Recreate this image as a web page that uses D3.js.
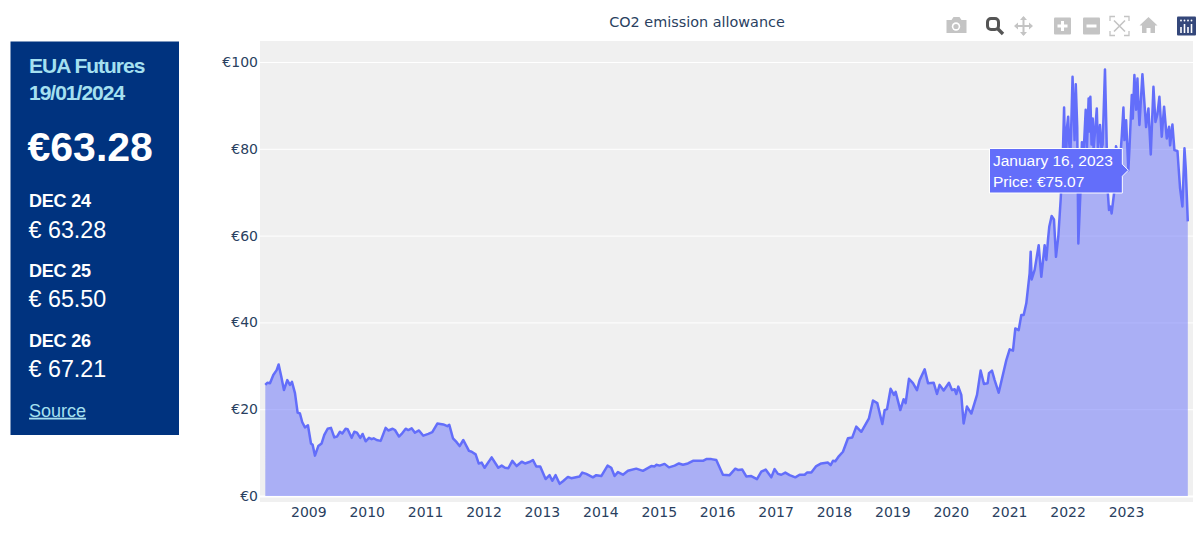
<!DOCTYPE html>
<html><head><meta charset="utf-8">
<script src="https://cdn.jsdelivr.net/npm/d3@7/dist/d3.min.js"></script>
<style>html,body{margin:0;padding:0;background:#fff;overflow:hidden}svg{display:block}</style>
</head><body><svg id="c" width="1200" height="536"></svg>
<script>
// decimal years
const years = [2008.264,2008.298,2008.344,2008.401,2008.458,2008.492,2008.538,2008.583,2008.640,2008.686,2008.720,2008.772,2008.817,2008.857,2008.897,2008.943,2008.994,2009.046,2009.074,2009.114,2009.171,2009.228,2009.274,2009.331,2009.388,2009.445,2009.491,2009.542,2009.582,2009.639,2009.674,2009.742,2009.788,2009.833,2009.890,2009.930,2009.982,2010.039,2010.084,2010.119,2010.170,2010.239,2010.324,2010.370,2010.444,2010.484,2010.553,2010.598,2010.667,2010.712,2010.769,2010.826,2010.895,2010.969,2011.055,2011.123,2011.209,2011.312,2011.380,2011.414,2011.477,2011.540,2011.591,2011.654,2011.751,2011.797,2011.865,2011.917,2011.968,2012.019,2012.139,2012.253,2012.311,2012.368,2012.425,2012.493,2012.567,2012.653,2012.710,2012.796,
2012.846,2012.903,2012.971,2013.063,2013.131,2013.177,2013.234,2013.303,2013.360,2013.445,2013.502,2013.645,2013.691,2013.759,2013.873,2013.930,2014.016,2014.124,2014.187,2014.244,2014.301,2014.387,2014.473,2014.615,2014.729,2014.872,2014.929,2014.958,2015.015,2015.100,2015.175,2015.272,2015.346,2015.414,2015.500,2015.586,2015.757,2015.814,2015.900,2015.985,2016.099,2016.213,2016.311,2016.356,2016.430,2016.499,2016.584,2016.682,2016.756,2016.830,2016.927,2016.984,2017.041,2017.098,2017.167,2017.241,2017.338,2017.412,2017.498,2017.538,2017.612,2017.697,2017.783,2017.897,2017.943,2017.983,2018.023,2018.086,
2018.154,2018.240,2018.314,2018.382,2018.468,2018.599,2018.668,2018.742,2018.828,2018.868,2018.908,2018.970,2019.027,2019.056,2019.136,2019.193,2019.227,2019.284,2019.353,2019.421,2019.467,2019.553,2019.610,2019.707,2019.764,2019.809,2019.878,2019.969,2020.021,2020.066,2020.095,2020.129,2020.180,2020.220,2020.277,2020.352,2020.449,2020.511,2020.568,2020.631,2020.654,2020.705,2020.751,2020.820,2020.951,2021.008,2021.065,2021.105,2021.162,2021.208,2021.248,2021.293,2021.350,2021.368,2021.385,2021.436,2021.505,2021.550,2021.607,2021.636,2021.664,
2021.687,2021.727,2021.767,2021.801,2021.841,2021.881,2021.916,2021.940,2021.955,2021.975,2021.990,2022.010,2022.025,2022.045,2022.060,2022.085,2022.100,2022.120,2022.140,2022.165,2022.184,2022.220,2022.245,2022.260,2022.285,2022.310,2022.330,2022.360,2022.375,2022.390,2022.410,2022.430,2022.445,2022.470,2022.500,2022.520,2022.555,2022.580,2022.600,2022.640,2022.663,2022.686,2022.709,2022.737,2022.754,2022.795,2022.829,2022.857,2022.899,2022.928,2022.956,2022.973,2023.002,2023.040,2023.059,2023.099,2023.116,2023.144,2023.173,2023.196,2023.213,2023.230,2023.281,2023.310,2023.344,2023.384,2023.424,2023.470,2023.504,2023.538,2023.572,2023.612,2023.652,2023.698,2023.738,2023.755,2023.795,2023.829,2023.881,2023.904,2023.926,2023.966,2024.001,2024.023,2024.058];
const prices = [25.6,26.1,26.0,27.9,29.0,30.3,27.5,24.4,26.7,25.6,26.3,23.7,19.2,19.0,17.0,15.8,16.3,12.1,11.8,9.3,11.5,12.1,14.1,15.5,15.7,13.5,13.7,14.8,14.4,15.5,15.4,13.4,14.8,14.6,13.4,14.3,12.6,13.4,13.1,13.3,12.9,12.7,15.7,15.1,15.5,15.2,13.7,14.3,15.5,15.2,15.6,14.6,15.1,13.9,14.3,14.7,16.7,16.5,16.1,16.4,13.3,12.4,11.5,12.9,10.4,10.2,9.6,7.5,7.7,6.5,8.9,6.5,7.0,6.5,6.4,8.1,6.9,7.9,7.5,7.9,
8.3,6.8,6.8,3.9,4.8,3.5,4.8,2.8,3.4,4.4,4.1,4.5,5.4,5.1,4.3,4.8,4.6,7.0,6.5,4.6,5.5,4.9,5.8,6.3,5.8,6.9,6.8,7.2,7.0,7.4,6.6,7.0,7.5,7.2,7.5,8.1,8.1,8.5,8.5,8.3,4.9,4.8,6.3,6.0,6.1,4.5,4.6,3.9,5.6,6.1,4.3,6.2,5.1,4.9,5.4,4.8,4.3,4.9,4.9,5.4,5.4,6.9,7.5,7.7,7.1,8.1,8.0,9.2,
10.2,13.3,13.5,16.0,14.8,17.9,22.0,21.4,16.6,19.8,20.0,24.7,23.3,24.0,19.8,22.3,21.4,27.0,26.0,24.4,26.7,29.2,26.0,26.1,23.5,25.6,24.3,26.1,24.4,24.6,23.5,25.2,23.3,16.7,20.6,19.0,23.3,28.9,25.8,26.0,28.3,28.9,26.7,23.8,31.3,33.8,33.5,38.6,38.2,41.7,41.7,44.4,51.3,56.3,49.9,52.1,57.8,50.5,57.8,54.4,59.0,
62.1,64.5,63.7,55.1,59.8,68.2,77.4,89.5,80,78,85,87.4,82,78,84,96.6,90,82,94.9,85,58.2,70,81.5,76,82,89,80,91.6,84,92,81,87,80,84,89.3,80,85.5,80,81,98.3,85.1,70.5,65.9,66.7,65.1,69.7,80.6,79.0,77.4,83,89.5,82,86.6,75.07,80,92.4,87,97,89,96.2,90,85.5,97.2,91.6,85,89.3,78.7,94.3,86.2,88,92,82.8,89.7,82.4,85.1,80.8,85.6,79.7,79.5,75,70.9,66.7,80.1,75.5,63.28];
const xTicks = [2009,2010,2011,2012,2013,2014,2015,2016,2017,2018,2019,2020,2021,2022,2023];
const yTicks = [0,20,40,60,80,100];
const titleText = "CO2 emission allowance";
const tooltipLines = ["January 16, 2023","Price: €75.07"];
const panelHead = ["EUA Futures","19/01/2024"];
const panelMain = "€63.28";
const contracts = ["DEC 24","DEC 25","DEC 26"];
const contractPrices = ["€ 63.28","€ 65.50","€ 67.21"];

const svg = d3.select("#c");
const P = {l:260,r:1193,t:41,b:502};
const x = d3.scaleLinear().domain([2009,2023]).range([308.3,1126]);
const y = d3.scaleLinear().domain([0,100]).range([496,62]);
const blue = "#636efa", ink = "#2a3f5f", verd = "'DejaVu Sans',Verdana,sans-serif", arial = "'Liberation Sans',Arial,sans-serif";
const data = years.map((t,i)=>({t,v:prices[i]}));

// panel
const px = 10.5, pw = 168.5;
svg.append("rect").attr("x",px).attr("y",41.5).attr("width",pw).attr("height",393.5).attr("fill","#00337f");
const T = (s,xx,yy,size,fill,w,ls)=>svg.append("text").attr("x",xx).attr("y",yy).attr("font-family",arial).attr("font-size",size)
  .attr("fill",fill).attr("font-weight",w||400).attr("letter-spacing",ls||0).text(s);
panelHead.forEach((s,i)=>T(s,29,[73,100][i],21,"#a5e0f0",700,-1));
T(panelMain,27.5,161,41,"#fff",700,0);
contracts.forEach((s,i)=>T(s,29,[206.7,277,346.7][i],18,"#fff",700,-.2));
contractPrices.forEach((s,i)=>T(s,28.5,[237.7,307.3,377.3][i],23.3,"#fff",400,0));
T("Source",29,416.7,18,"#a5e0f0").attr("text-decoration","underline");

// plot
svg.append("rect").attr("x",P.l).attr("y",P.t).attr("width",P.r-P.l).attr("height",P.b-P.t).attr("fill","#f0f0f0");
const gy = svg.append("g").attr("transform",`translate(${P.l},0)`)
  .call(d3.axisLeft(y).tickValues(yTicks).tickSize(-(P.r-P.l)).tickPadding(2).tickFormat(d=>"€"+d));
gy.select(".domain").remove();
gy.selectAll("line").attr("stroke","#fff").attr("stroke-width",d=>d===0?2:1);
gy.selectAll("text").attr("font-family",verd).attr("font-size",14).attr("fill",ink);
const gx = svg.append("g").attr("transform",`translate(0,${P.b})`)
  .call(d3.axisBottom(x).tickValues(xTicks).tickSize(0).tickPadding(5).tickFormat(d3.format("d")));
gx.select(".domain").remove();
gx.selectAll("text").attr("font-family",verd).attr("font-size",14).attr("fill",ink);

const area = d3.area().x(d=>x(d.t)).y0(y(0)).y1(d=>y(d.v));
const line = d3.line().x(d=>x(d.t)).y(d=>y(d.v));
svg.append("path").datum(data).attr("d",area).attr("fill",blue).attr("fill-opacity",.5);
svg.append("path").datum(data).attr("d",line).attr("fill","none").attr("stroke",blue).attr("stroke-width",2.5).attr("stroke-linejoin","round");

// title
svg.append("text").attr("x",697).attr("y",27).attr("text-anchor","middle").attr("font-family",verd)
  .attr("font-size",14.4).attr("fill",ink).text(titleText);

// tooltip
const hx = x(2023.04), hy = y(75.07);
svg.append("path").attr("d",`M${hx},${hy}l-6,-6V148.5H989.5V193H${hx-6}V${hy+6}Z`).attr("fill",blue).attr("stroke","#fff").attr("stroke-width",1);
tooltipLines.forEach((s,i)=>svg.append("text").attr("x",993).attr("y",[166,186.5][i]).attr("font-family",arial).attr("font-size",15.5).attr("fill","#fff").text(s));

// modebar
const mb = svg.append("g");
const grey = "#c4c4c4", dark = "#555";
// camera
mb.append("path").attr("d","M946.5,20h5l2,-3h6l2,3h5v13h-20z").attr("fill",grey);
mb.append("circle").attr("cx",956).attr("cy",26.5).attr("r",4.2).attr("fill","#fff");
mb.append("circle").attr("cx",956).attr("cy",26.5).attr("r",2.6).attr("fill",grey);
// zoom
mb.append("rect").attr("x",987.5).attr("y",18.5).attr("width",11).attr("height",11).attr("rx",3.5).attr("fill","none").attr("stroke",dark).attr("stroke-width",3);
mb.append("line").attr("x1",998).attr("y1",29).attr("x2",1003).attr("y2",34).attr("stroke",dark).attr("stroke-width",3.4);
// pan
mb.append("path").attr("d","M1023.5,17v18M1015,26h17").attr("stroke",grey).attr("stroke-width",2).attr("fill","none");
mb.append("path").attr("d","M1023.5,16l-3.5,4h7zM1023.5,36l-3.5,-4h7zM1014,26l4,-3.5v7zM1033,26l-4,-3.5v7z").attr("fill",grey);
// plus / minus
mb.append("rect").attr("x",1054).attr("y",17.5).attr("width",17).attr("height",17).attr("rx",1).attr("fill",grey);
mb.append("path").attr("d","M1062.5,21v10M1057.5,26h10").attr("stroke","#fff").attr("stroke-width",3);
mb.append("rect").attr("x",1083).attr("y",17.5).attr("width",17).attr("height",17).attr("rx",1).attr("fill",grey);
mb.append("path").attr("d","M1086.5,26h10").attr("stroke","#fff").attr("stroke-width",3);
// autoscale
mb.append("path").attr("d","M1110,21v-4.5h5M1124,16.5h5v4.5M1129,31v4.5h-5M1115,35.5h-5v-4.5").attr("stroke",grey).attr("stroke-width",1.3).attr("fill","none");
mb.append("path").attr("d","M1114,20.5l11,11M1125,20.5l-11,11").attr("stroke",grey).attr("stroke-width",1.6);
// home
mb.append("path").attr("d","M1148.5,17l-9,8.5h2.5v7.5h4.5v-5h4v5h4.5v-7.5h2.500z").attr("fill",grey);
// logo
mb.append("rect").attr("x",1177).attr("y",16.500).attr("width",19).attr("height",19).attr("rx",1).attr("fill","#34477a");
[[1181,27,33],[1184.500,24,33],[1188,27,33],[1191.500,24,33]].forEach(d=>mb.append("line").attr("x1",d[0]).attr("x2",d[0]).attr("y1",d[1]).attr("y2",d[2]).attr("stroke","#fff").attr("stroke-width",1.6));
[1181,1184.500,1188,1191.500].forEach(cx=>mb.append("circle").attr("cx",cx).attr("cy",20.5).attr("r",.9).attr("fill","#fff"));
</script></body></html>
